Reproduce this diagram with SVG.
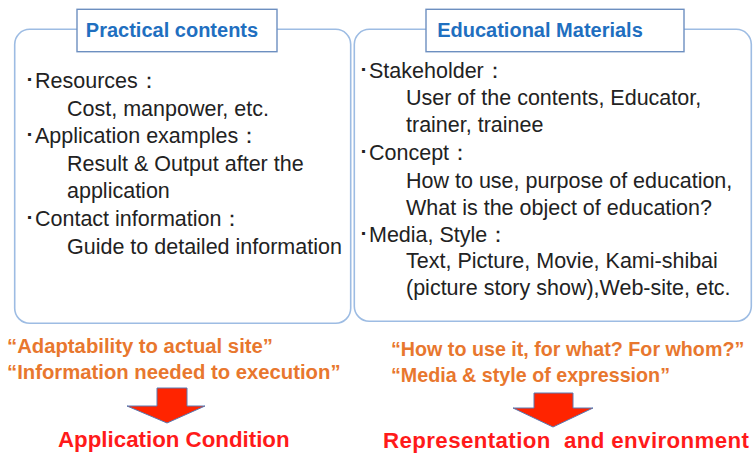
<svg xmlns="http://www.w3.org/2000/svg" width="753" height="455" viewBox="0 0 753 455">
<style>
.box{fill:#fff;stroke:#9dbce3;stroke-width:1.6}
.tbox{fill:#fff;stroke:#6d8fc0;stroke-width:1.4}
.title{font-family:"Liberation Sans",Arial,sans-serif;font-weight:bold;font-size:20px;fill:#1f6fc0;text-anchor:middle}
.body{font-family:"Liberation Sans",Arial,sans-serif;font-size:21.5px;fill:#222}
.org{font-family:"Liberation Sans",Arial,sans-serif;font-weight:bold;font-size:20.3px;fill:#e8772e}
.org2{font-family:"Liberation Sans",Arial,sans-serif;font-weight:bold;font-size:19.7px;fill:#e8772e}
.red{font-family:"Liberation Sans",Arial,sans-serif;font-weight:bold;font-size:22.3px;fill:#ff1a1a;white-space:pre}
.arrow{fill:#ff2400;stroke:#5a78b0;stroke-width:1}
</style>
<rect width="753" height="455" fill="#fff"/>
<g id="practical-contents">
<rect class="box" x="14.7" y="29.3" width="336" height="294" rx="15"/>
<rect class="tbox" x="77" y="9.3" width="200" height="42.4"/>
<text class="title" x="172" y="37">Practical contents</text>
<text class="body" x="24" y="88">･Resources：</text>
<text class="body" x="67" y="116">Cost, manpower, etc.</text>
<text class="body" x="24" y="143">･Application examples：</text>
<text class="body" x="67" y="171">Result &amp; Output after the</text>
<text class="body" x="67" y="198">application</text>
<text class="body" x="24" y="226">･Contact information：</text>
<text class="body" x="67" y="254">Guide to detailed information</text>
</g>
<g id="educational-materials">
<rect class="box" x="354.3" y="29.3" width="397" height="292" rx="15"/>
<rect class="tbox" x="426" y="9.3" width="258" height="42.4"/>
<text class="title" x="540" y="37">Educational Materials</text>
<text class="body" x="358" y="78">･Stakeholder：</text>
<text class="body" x="406" y="105">User of the contents, Educator,</text>
<text class="body" x="406" y="132">trainer, trainee</text>
<text class="body" x="358" y="160">･Concept：</text>
<text class="body" x="406" y="188">How to use, purpose of education,</text>
<text class="body" x="406" y="215">What is the object of education?</text>
<text class="body" x="358" y="242">･Media, Style：</text>
<text class="body" x="406" y="268">Text, Picture, Movie, Kami-shibai</text>
<text class="body" x="406" y="295">(picture story show),Web-site, etc.</text>
</g>
<g id="application-condition">
<text class="org" x="7" y="353">“Adaptability to actual site”</text>
<text class="org" x="7" y="379">“Information needed to execution”</text>
<text class="red" x="58" y="447">Application Condition</text>
</g>
<g id="representation">
<text class="org2" x="391" y="356">“How to use it, for what? For whom?”</text>
<text class="org2" x="391" y="382">“Media &amp; style of expression”</text>
<text class="red" x="383" y="448" xml:space="preserve" textLength="366" lengthAdjust="spacing">Representation  and environment</text>
</g>
<g id="connectors">
<polygon class="arrow" points="157,388 187,388 187,406 205,406 167,423 127,406 157,406"/>
<polygon class="arrow" points="534,393 573,393 573,408 593,408 553,427 513,408 534,408"/>
</g>
</svg>
